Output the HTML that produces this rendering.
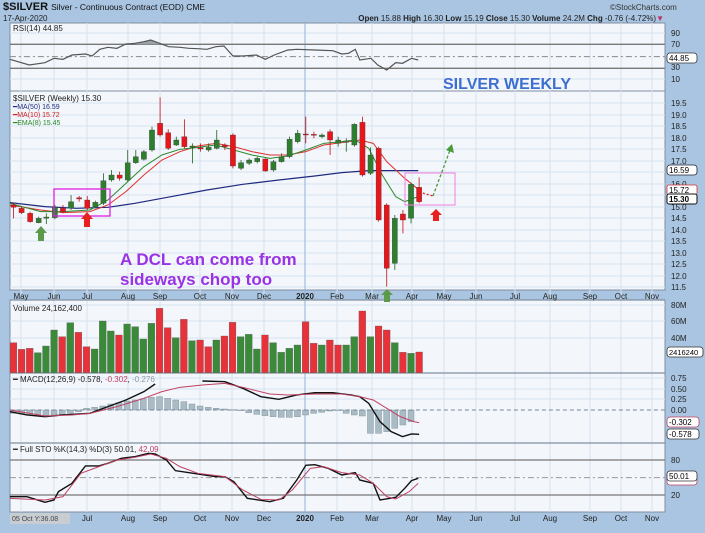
<!DOCTYPE html><html><head><meta charset="utf-8"><style>
body{margin:0;width:705px;height:528px;overflow:hidden;background:#a9c5e1;font-family:"Liberation Sans",sans-serif}
svg text{font-family:"Liberation Sans",sans-serif}
</style></head><body>
<svg width="705" height="528" viewBox="0 0 705 528" xmlns="http://www.w3.org/2000/svg">
<rect width="705" height="528" fill="#a9c5e1"/>
<text x="3" y="10" font-size="11" font-weight="bold" fill="#111">$SILVER <tspan font-weight="normal" font-size="8.5">Silver - Continuous Contract (EOD) CME</tspan></text>
<text x="610" y="10" font-size="8" fill="#333">©StockCharts.com</text>
<text x="3" y="21" font-size="8" fill="#222">17-Apr-2020</text>
<text x="664" y="21" font-size="8" fill="#222" text-anchor="end"><tspan font-weight="bold">Open</tspan> 15.88 <tspan font-weight="bold">High</tspan> 16.30 <tspan font-weight="bold">Low</tspan> 15.19 <tspan font-weight="bold">Close</tspan> 15.30 <tspan font-weight="bold">Volume</tspan> 24.2M <tspan font-weight="bold">Chg</tspan> -0.76 (-4.72%)<tspan fill="#c03060">▼</tspan></text>
<g fill="#f3f6fb" stroke="#7f8fa0" stroke-width="1">
<rect x="10" y="23" width="655" height="68"/>
<rect x="10" y="91" width="655" height="199"/>
<rect x="10" y="300" width="655" height="73"/>
<rect x="10" y="373" width="655" height="70"/>
<rect x="10" y="443" width="655" height="69"/>
</g>
<g stroke="#d6e2ef" stroke-width="1">
<path d="M21 23V512M54 23V512M87 23V512M128 23V512M160 23V512M200 23V512M232 23V512M264 23V512M337 23V512M372 23V512M412 23V512M444 23V512M476 23V512M515 23V512M550 23V512M590 23V512M621 23V512M652 23V512"/>
<path d="M10 33H665M10 79H665M10 103H665M10 115H665M10 126H665M10 138H665M10 149H665M10 161H665M10 172H665M10 184H665M10 195H665M10 207H665M10 218H665M10 230H665M10 241H665M10 253H665M10 264H665M10 276H665M10 287H665M10 305H665M10 321H665M10 338H665M10 378H665M10 389H665M10 399H665"/>
</g>
<path d="M305 23V512" stroke="#8fb3d6" stroke-width="1"/>
<g stroke="#8090a0" stroke-width="1.3" fill="none"><path d="M10 300H665M10 373H665M10 443H665"/></g>
<g transform="scale(0.4497,0.3333)">
<path d="M22 133H1478M22 205H1478" stroke="#777" stroke-width="1.3" vector-effect="non-scaling-stroke"/>
<path d="M22 170H1478" stroke="#888" stroke-width="1" stroke-dasharray="6 3 2 3" vector-effect="non-scaling-stroke"/>
<path d="M300 133L320 125L335 120L350 128L360 133Z" fill="#9aa3aa"/>
<path d="M22 178L65 195L100 188L120 175L140 178L160 165L190 162L205 168L222 148L240 142L260 145L280 132L300 130L320 125L335 120L355 130L375 140L400 142L420 145L440 146L460 148L480 140L498 138L518 168L540 168L570 165L590 178L610 165L640 150L660 148L700 150L740 152L760 162L775 160L790 148L800 180L825 175L840 195L860 210L880 188L895 190L915 175L930 180" fill="none" stroke="#555" stroke-width="1.2" vector-effect="non-scaling-stroke"/>
</g>
<text x="13" y="31" font-size="8" fill="#222">RSI(14) 44.85</text>
<text x="443" y="89" font-size="16" font-weight="bold" fill="#3d6fd0">SILVER WEEKLY</text>
<g font-size="8" fill="#222">
<text x="671" y="36">90</text><text x="671" y="47">70</text><text x="671" y="70">30</text><text x="671" y="82">10</text>
</g>
<rect x="667" y="53" width="30" height="10" rx="3" fill="#fff" stroke="#333" stroke-width="0.8"/><text x="669" y="61" font-size="8">44.85</text>
<g font-size="8" fill="#222">
<text x="671" y="106">19.5</text><text x="671" y="118">19.0</text><text x="671" y="129">18.5</text><text x="671" y="141">18.0</text><text x="671" y="152">17.5</text><text x="671" y="164">17.0</text><text x="671" y="187">16.0</text><text x="671" y="210">15.0</text><text x="671" y="221">14.5</text><text x="671" y="233">14.0</text><text x="671" y="244">13.5</text><text x="671" y="256">13.0</text><text x="671" y="267">12.5</text><text x="671" y="279">12.0</text><text x="671" y="290">11.5</text>
</g>
<rect x="667" y="165" width="30" height="10" rx="3" fill="#fff" stroke="#223" stroke-width="0.8"/><text x="669" y="173" font-size="8">16.59</text>
<rect x="667" y="185" width="30" height="10" rx="2" fill="#fff" stroke="#d03030" stroke-width="0.8"/><text x="669" y="193" font-size="8">15.72</text>
<rect x="667" y="194" width="30" height="10" rx="2" fill="#fff" stroke="#111" stroke-width="1"/><text x="669" y="202" font-size="8" font-weight="bold">15.30</text>
<g transform="translate(0,90) scale(0.4497,0.3333)">
<path d="M22 338L100 350L170 355L240 352L300 340L380 320L460 300L540 283L620 270L700 258L760 248L820 242L930 242" fill="none" stroke="#1f2a80" stroke-width="1.2" vector-effect="non-scaling-stroke"/>
<path d="M22 345L90 360L140 368L200 365L240 345L280 305L320 255L360 210L400 185L440 168L480 160L520 170L560 185L600 195L640 195L680 185L720 165L760 158L800 150L830 160L860 215L900 265L930 298" fill="none" stroke="#e03030" stroke-width="1" vector-effect="non-scaling-stroke"/>
<path d="M22 340L90 365L140 365L200 360L240 330L280 280L320 230L360 195L400 178L440 172L480 165L520 180L560 195L600 205L640 198L680 180L720 160L760 155L790 150L820 175L850 255L880 320L900 335L930 320" fill="none" stroke="#2a8a2a" stroke-width="1" vector-effect="non-scaling-stroke"/>
</g>
<g id="candles"></g>
<rect x="54" y="189" width="56" height="27" fill="none" stroke="#e020e0" stroke-width="1.3"/>
<rect x="405" y="173" width="50" height="32" fill="none" stroke="#f080e0" stroke-width="1"/>
<path d="M419 192L433 196" stroke="#e02020" stroke-width="1.3" stroke-dasharray="2 2"/>
<path d="M433 196L450 150" stroke="#4a9a3a" stroke-width="1.3" stroke-dasharray="3 2"/>
<path d="M446 150L452 144L454 153Z" fill="#4a9a3a"/>
<path d="M41 226L47 233H44V241H38V233H35Z" fill="#5a9a4a"/>
<path d="M87 212L93 219H90V227H84V219H81Z" fill="#e82020"/>
<path d="M436 209L442 215H439V221H433V215H430Z" fill="#e82020"/>
<path d="M387 289L393 295H390V302H384V295H381Z" fill="#5a9a4a"/>
<text x="120" y="265" font-size="17" font-weight="bold" fill="#9a32e6">A DCL can come from</text>
<text x="120" y="285" font-size="17" font-weight="bold" fill="#9a32e6">sideways chop too</text>
<text x="13" y="101" font-size="8" fill="#222">$SILVER (Weekly) 15.30</text>
<text x="13" y="109" font-size="7" fill="#1f2a80">━MA(50) 16.59</text>
<text x="13" y="117" font-size="7" fill="#d02020">━MA(10) 15.72</text>
<text x="13" y="125" font-size="7" fill="#2a8a2a">━EMA(8) 15.45</text>
<g font-size="8" fill="#222" text-anchor="middle">
<text x="21" y="299">May</text><text x="54" y="299">Jun</text><text x="87" y="299">Jul</text><text x="128" y="299">Aug</text><text x="160" y="299">Sep</text><text x="200" y="299">Oct</text><text x="232" y="299">Nov</text><text x="264" y="299">Dec</text><text x="305" y="299" font-weight="bold">2020</text><text x="337" y="299">Feb</text><text x="372" y="299">Mar</text><text x="412" y="299">Apr</text><text x="444" y="299">May</text><text x="476" y="299">Jun</text><text x="515" y="299">Jul</text><text x="550" y="299">Aug</text><text x="590" y="299">Sep</text><text x="621" y="299">Oct</text><text x="652" y="299">Nov</text>
<text x="87" y="521">Jul</text><text x="128" y="521">Aug</text><text x="160" y="521">Sep</text><text x="200" y="521">Oct</text><text x="232" y="521">Nov</text><text x="264" y="521">Dec</text><text x="305" y="521" font-weight="bold">2020</text><text x="337" y="521">Feb</text><text x="372" y="521">Mar</text><text x="412" y="521">Apr</text><text x="444" y="521">May</text><text x="476" y="521">Jun</text><text x="515" y="521">Jul</text><text x="550" y="521">Aug</text><text x="590" y="521">Sep</text><text x="621" y="521">Oct</text><text x="652" y="521">Nov</text>
</g>
<rect x="10" y="513" width="60" height="11" fill="#c8cdd2"/><text x="12" y="521" font-size="7" fill="#444">05 Oct Y:36.08</text>
<g transform="translate(0,300) scale(0.4497,0.3333)">
<path d="M22 330H1478" stroke="#789" stroke-width="1" stroke-dasharray="4 3" vector-effect="non-scaling-stroke"/>
<path d="M22 335L60 345L100 350L140 345L200 340L240 320L280 300L320 275L345 252M450 243L500 245L540 265L580 290L620 298L660 285L700 278L740 278L780 285L800 290L820 310L845 365L870 395L895 410L915 402L932 403" fill="none" stroke="#111" stroke-width="1.4" vector-effect="non-scaling-stroke"/>
<path d="M22 330L100 348L160 345L200 340L260 320L320 295L360 275L400 262L450 255L500 250L540 262L600 282L640 285L700 282L760 282L800 290L830 300L860 325L890 350L920 365L932 368" fill="none" stroke="#c04060" stroke-width="1" vector-effect="non-scaling-stroke"/>
<path d="M22 480H1478M22 585H1478" stroke="#777" stroke-width="1.2" vector-effect="non-scaling-stroke"/>
<path d="M22 533H1478" stroke="#999" stroke-width="1" stroke-dasharray="6 3 2 3" vector-effect="non-scaling-stroke"/>
<path d="M22 590L60 590L100 607L120 600L130 575L160 550L190 498L220 498L240 490L270 475L300 470L330 460L345 462L370 480L390 512L430 520L480 530L500 530L520 545L550 595L600 605L630 595L660 540L680 496L700 494L730 505L760 525L790 518L800 540L830 550L845 600L880 592L900 565L915 542L930 535" fill="none" stroke="#111" stroke-width="1.4" vector-effect="non-scaling-stroke"/>
<path d="M22 595L100 600L140 590L180 520L220 500L260 480L300 472L335 462L370 475L400 500L440 520L500 530L540 570L580 598L620 600L650 570L690 505L720 500L760 518L800 525L830 550L860 590L880 597L910 575L930 550" fill="none" stroke="#c04060" stroke-width="1" vector-effect="non-scaling-stroke"/>
</g>
<text x="13" y="311" font-size="8" fill="#222">Volume 24,162,400</text>
<text x="13" y="382" font-size="8" fill="#222">━ MACD(12,26,9) -0.578, <tspan fill="#c04060">-0.302</tspan>, <tspan fill="#8899aa">-0.276</tspan></text>
<text x="13" y="452" font-size="8" fill="#222">━ Full STO %K(14,3) %D(3) 50.01, <tspan fill="#c04060">42.09</tspan></text>
<g font-size="8" fill="#222">
<text x="671" y="308">80M</text><text x="671" y="324">60M</text><text x="671" y="341">40M</text>
<text x="671" y="381">0.75</text><text x="671" y="392">0.50</text><text x="671" y="402">0.25</text><text x="671" y="413">0.00</text>
<text x="671" y="463">80</text><text x="671" y="498">20</text>
</g>
<rect x="667" y="347" width="36" height="10" rx="3" fill="#fff" stroke="#333" stroke-width="0.8"/><text x="669" y="355" font-size="7.5">2416240</text>
<rect x="667" y="417" width="32" height="10" rx="3" fill="#fff" stroke="#c04060" stroke-width="0.8"/><text x="669" y="425" font-size="8">-0.302</text>
<rect x="667" y="429" width="32" height="10" rx="3" fill="#fff" stroke="#333" stroke-width="0.8"/><text x="669" y="437" font-size="8">-0.578</text>
<rect x="667" y="476" width="30" height="9" rx="3" fill="#fff" stroke="#c04060" stroke-width="0.8"/>
<rect x="667" y="471" width="30" height="10" rx="3" fill="#fff" stroke="#333" stroke-width="0.8"/><text x="669" y="479" font-size="8">50.01</text>
</svg>
<script>
var NS="http://www.w3.org/2000/svg";
function el(p,t,a){var e=document.createElementNS(NS,t);for(var k in a)e.setAttribute(k,a[k]);p.appendChild(e);return e;}
var C=[[30,'r',345,352,340,385],[48,'r',355,368,350,372],[67,'r',370,395,365,398],[86,'g',385,398,380,400],[103,'g',381,385,370,402],[122,'g',352,383,345,388],[140,'r',355,365,345,370],[158,'g',335,355,315,360],[176,'r',323,327,318,335],[194,'r',330,355,318,360],[212,'g',337,350,332,355],[230,'g',272,340,250,345],[248,'g',255,270,240,275],[266,'r',255,265,245,272],[284,'g',218,270,180,275],[302,'g',200,218,180,222],[320,'g',185,208,180,212],[338,'g',120,180,110,185],[356,'r',100,135,22,140],[374,'r',128,175,118,180],[392,'g',150,165,140,168],[410,'r',140,170,88,175],[428,'g',168,172,160,220],[446,'r',173,177,160,185],[464,'g',172,180,160,185],[482,'g',150,175,120,178],[500,'r',165,170,160,180],[518,'r',135,228,130,235],[536,'g',218,235,210,240],[554,'g',210,220,205,225],[572,'g',205,215,200,220],[590,'r',207,243,205,245],[608,'g',215,240,210,245],[626,'g',200,215,190,218],[644,'g',148,200,140,205],[662,'g',130,155,120,160],[680,'r',132,135,80,160],[698,'r',133,136,125,145],[716,'g',135,140,130,145],[734,'r',125,150,118,195],[752,'g',150,160,140,170],[770,'g',153,157,145,185],[788,'g',103,165,100,170],[806,'r',97,255,80,260],[824,'g',195,250,172,255],[842,'r',175,390,170,395],[860,'r',345,535,340,590],[878,'g',385,520,375,540],[896,'r',372,390,360,430],[914,'g',283,385,278,400],[932,'r',292,335,262,340]];
var g=document.getElementById('candles');
var fx=0.4497,fy=1/3;
C.forEach(function(c){var x=c[0]*fx,col=c[1]=='r'?'#e8161b':'#2f7d2f';
el(g,'line',{x1:x,x2:x,y1:90+c[4]*fy,y2:90+c[5]*fy,stroke:c[1]=='r'?'#c01010':'#1f5f1f','stroke-width':0.8});
el(g,'rect',{x:x-2.6,y:90+c[2]*fy,width:5.2,height:Math.max(1,(c[3]-c[2])*fy),fill:col,stroke:'#333','stroke-width':0.3});});
var V=[['r',128],['r',148],['r',145],['g',158],['g',138],['g',90],['r',110],['g',68],['r',97],['r',140],['g',147],['g',63],['g',93],['r',105],['g',72],['g',80],['g',117],['g',70],['r',25],['r',83],['g',113],['r',58],['g',122],['r',120],['r',140],['g',120],['r',108],['r',67],['g',110],['g',103],['g',147],['r',105],['g',128],['g',157],['g',145],['g',135],['r',65],['r',130],['g',135],['r',120],['r',135],['g',135],['g',110],['r',33],['g',110],['r',78],['r',90],['g',128],['r',157],['g',160],['r',156]];
V.forEach(function(v,i){var x=(30+i*18.04)*fx;el(g,'rect',{x:x-3.4,y:300+v[1]*fy,width:6.8,height:(218-v[1])*fy,fill:v[0]=='r'?'#e8323a':'#3a8a3a',stroke:'#555','stroke-width':0.3});});
var H=[340,342,345,346,346,345,343,340,335,325,322,318,312,308,303,300,296,292,290,295,300,305,312,318,322,325,327,329,330,338,343,347,350,352,352,350,345,340,337,333,331];
H=H.concat([340,345,348,400,400,395,385,375,365]);
H.forEach(function(h,i){var x=(30+i*18.04)*fx,y1=300+Math.min(h,330)*fy,y2=300+Math.max(h,330)*fy;el(g,'rect',{x:x-3,y:y1,width:6,height:Math.max(0.5,y2-y1),fill:'#a9bcc6',stroke:'#7a8a94','stroke-width':0.4});});
</script>
</body></html>
